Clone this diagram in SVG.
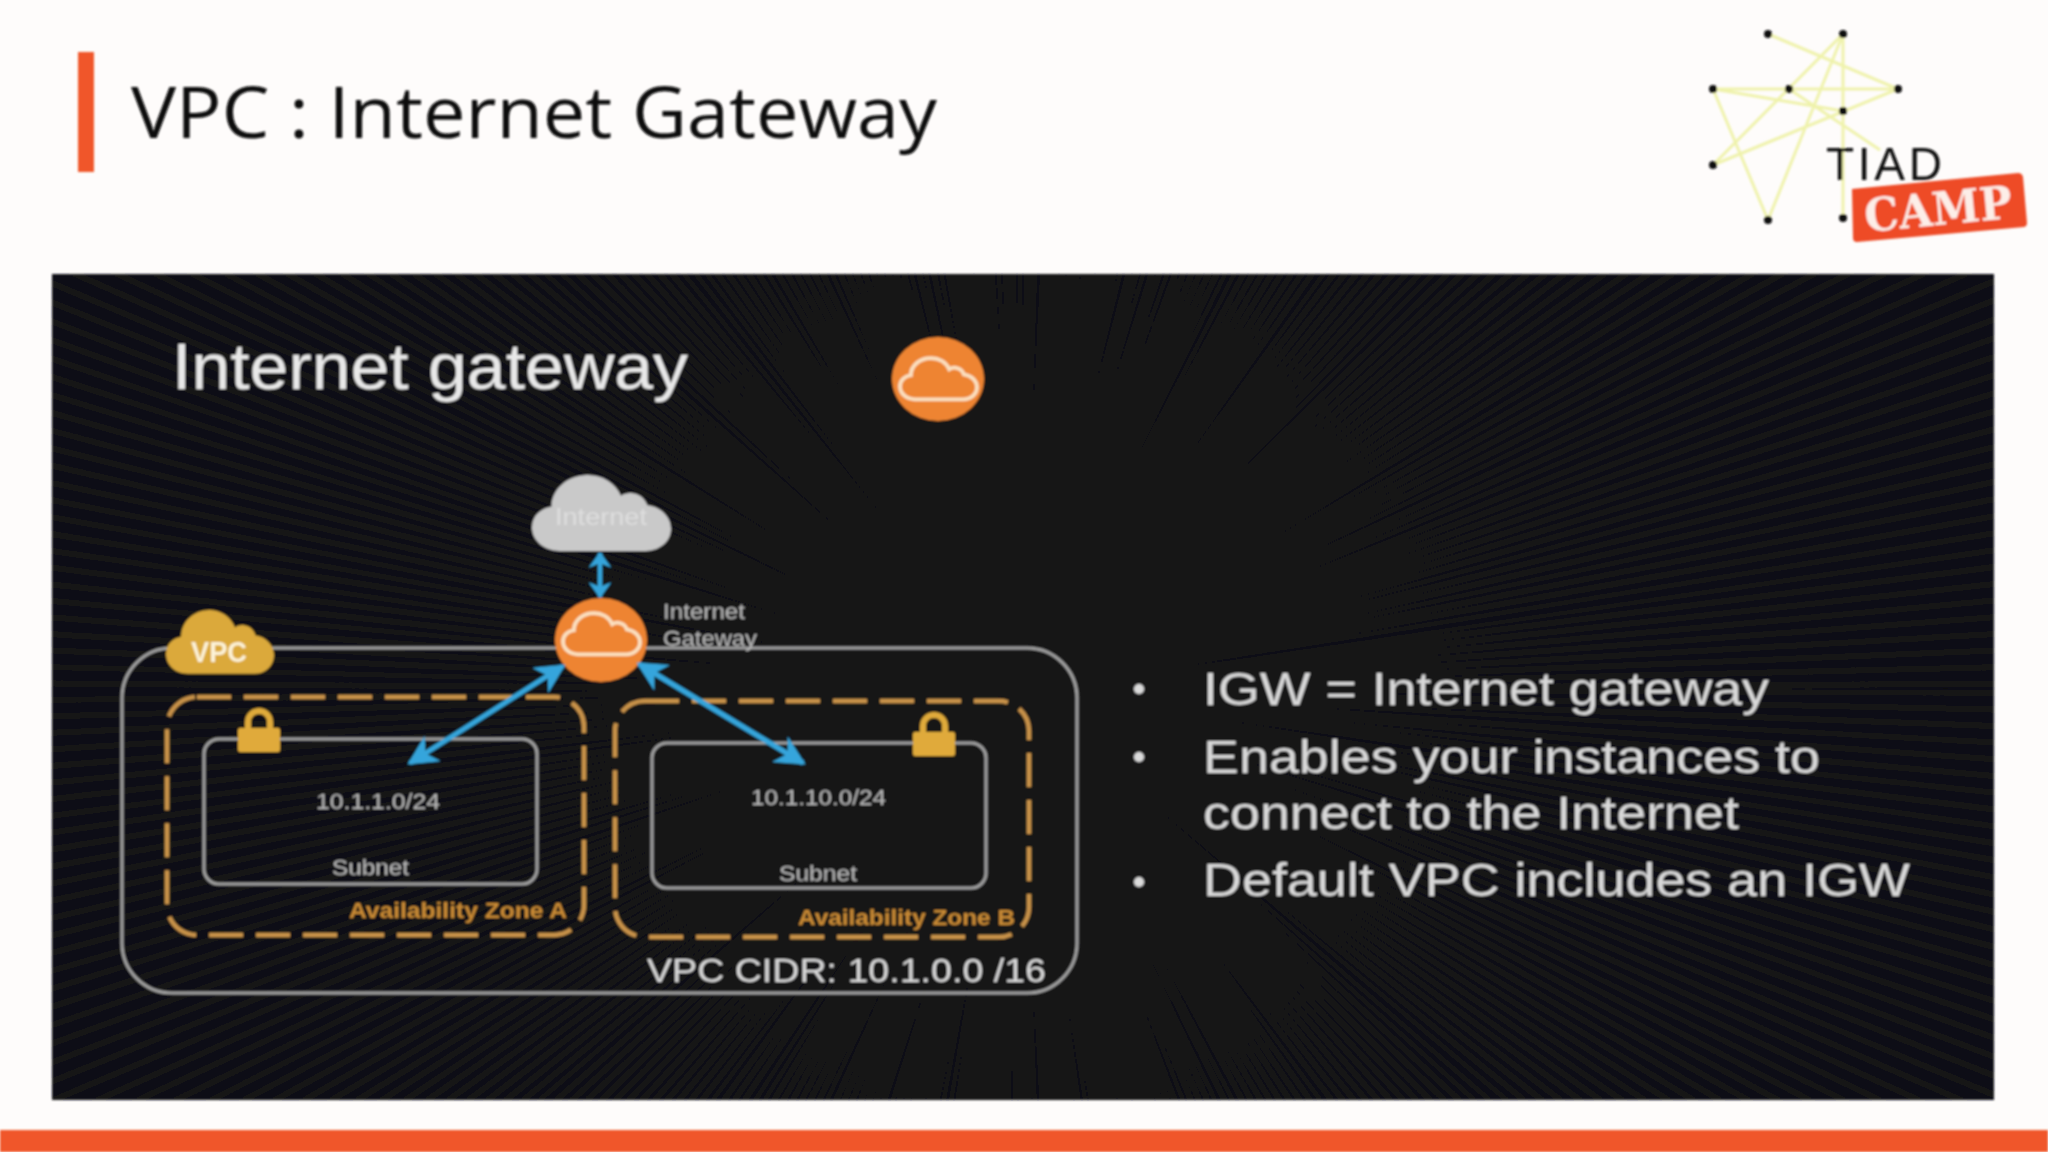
<svg xmlns="http://www.w3.org/2000/svg" xmlns:xlink="http://www.w3.org/1999/xlink" width="2048" height="1152" viewBox="0 0 2048 1152">
<style>
.sans{font-family:"Liberation Sans",Arial,sans-serif}
.box{fill:none;stroke:#a0a0a0;stroke-width:3}
.az{fill:none;stroke:#c8924a;stroke-width:4.5;stroke-dasharray:34 13}
.lbl{fill:#b8b8b8;font-size:22px}
.azt{fill:#c98a35;font-size:22px;font-weight:bold}
.bul{fill:#d8d8d8;font-size:47px}
.dot{fill:#dcdcdc}
.arr{stroke:#36a5dc;stroke-width:5;fill:none;marker-start:url(#ah);marker-end:url(#ah)}
.arrs{stroke:#36a5dc;stroke-width:4.5;fill:none;marker-start:url(#ahs);marker-end:url(#ahs)}
.ln{stroke:#eff2ac;stroke-width:3;fill:none}
.nd{fill:#111}
.lockb{fill:#e0aa3a}
.ray{fill:none;stroke:#151517}
</style>
<defs>
<filter id="soft" x="0" y="0" width="100%" height="100%"><feGaussianBlur stdDeviation="1"/></filter>
<marker id="ah" viewBox="0 0 10 10" refX="9" refY="5" markerWidth="6" markerHeight="6" orient="auto-start-reverse"><path d="M0 0 L10 5 L0 10 L3 5 Z" fill="#36a5dc"/></marker>
<marker id="ahs" viewBox="0 0 7 10" refX="6.5" refY="5" markerUnits="userSpaceOnUse" markerWidth="16" markerHeight="24" orient="auto-start-reverse"><path d="M0 0 L7 5 L0 10 L2 5 Z" fill="#36a5dc"/></marker>
<path id="cloud" d="M20 55 C8 55 0 47 0 38 C0 29 7 24 14 23 C14 10 26 0 40 0 C51 0 60 6 64 15 C70 11 80 13 83 22 C92 23 100 30 100 39 C100 48 92 55 82 55 Z"/>
<g id="lock"><path d="M-11 0 V-8 A11 11 0 0 1 11 -8 V0" fill="none" stroke="#e0aa3a" stroke-width="6"/><rect class="lockb" x="-21" y="-2" width="42" height="24" rx="2"/></g>
<clipPath id="pclip"><rect x="52" y="274" width="1942" height="826"/></clipPath>
</defs>
<rect width="2048" height="1152" fill="#fefcfb"/>
<g filter="url(#soft)">
<g id="header">
<rect x="78" y="52" width="16" height="120" fill="#f0562a"/>
<text x="131" y="138" font-family="'Open Sans','Noto Sans',sans-serif" font-size="72" fill="#0c0c0c" textLength="806" lengthAdjust="spacingAndGlyphs">VPC : Internet Gateway</text>
</g>
<g id="logo">
<path class="ln" d="M1768 34 L1898 89 L1713 165 L1843 34 L1843 218 M1713 89 H1898 M1713 89 L1768 220 L1843 34 M1713 89 L1843 111 M1789 89 L1880 150"/>
<circle class="nd" cx="1768" cy="34" r="4"/><circle class="nd" cx="1843" cy="34" r="4"/><circle class="nd" cx="1713" cy="89" r="4"/><circle class="nd" cx="1789" cy="89" r="4"/><circle class="nd" cx="1898" cy="89" r="4"/><circle class="nd" cx="1843" cy="111" r="4"/><circle class="nd" cx="1713" cy="165" r="4"/><circle class="nd" cx="1768" cy="220" r="4"/><circle class="nd" cx="1843" cy="218" r="4"/>
<text x="1826" y="180" class="sans" font-size="46" fill="#111" textLength="116">TIAD</text>
<path d="M1852 189 L2018 173 Q2022 173 2023 177 L2027 223 Q2027 226 2024 227 L1857 242 Q1853 242 1853 238 Z" fill="#ee4b28"/>
<text x="1938" y="225" text-anchor="middle" transform="rotate(-5.5 1938 207)" font-family="'DejaVu Serif',serif" font-weight="bold" font-size="46" fill="#fdeee8" textLength="148" lengthAdjust="spacingAndGlyphs">CAMP</text>
</g>
<rect id="footer" x="0" y="1130" width="2048" height="22" fill="#f0562a"/>
<g id="panel">
<rect x="52" y="274" width="1942" height="826" fill="#101012"/>
<g clip-path="url(#pclip)">
<circle class="ray" cx="1020" cy="690" r="1000" stroke-width="2000" stroke-dasharray="6 11"/>
</g>
<text x="172" y="389" class="sans" font-size="64" fill="#e8e8e8" textLength="516" lengthAdjust="spacingAndGlyphs">Internet gateway</text>
</g>
<g id="legend-igw">
<ellipse cx="938" cy="379" rx="46" ry="42" fill="#ee8430"/>
<use xlink:href="#cloud" href="#cloud" transform="translate(900 358) scale(.77 .75)" fill="none" stroke="#fbe0c0" stroke-width="5"/>
</g>
<g id="vpc">
<rect class="box" x="122" y="648" width="955" height="345" rx="50"/>
<use xlink:href="#cloud" href="#cloud" transform="translate(166 610) scale(1.08 1.16)" fill="#dba93a"/>
<text x="219" y="662" text-anchor="middle" class="sans" font-size="29" font-weight="bold" fill="#fdf3d8" textLength="56" lengthAdjust="spacingAndGlyphs">VPC</text>
<text x="647" y="982" class="sans" font-size="34" fill="#d8d8d8" textLength="399" lengthAdjust="spacingAndGlyphs">VPC CIDR: 10.1.0.0 /16</text>
</g>
<g id="az-a">
<rect class="az" x="167" y="697" width="417" height="238" rx="30"/>
<text x="349" y="918" class="sans azt" textLength="218" lengthAdjust="spacingAndGlyphs">Availability Zone A</text>
</g>
<g id="az-b">
<rect class="az" x="615" y="701" width="414" height="236" rx="30"/>
<text x="798" y="925" class="sans azt" textLength="217" lengthAdjust="spacingAndGlyphs">Availability Zone B</text>
</g>
<g id="subnet-a">
<rect class="box" x="204" y="739" width="333" height="145" rx="15"/>
<use xlink:href="#lock" href="#lock" x="259" y="730"/>
<text x="316" y="809" class="sans lbl" textLength="124" lengthAdjust="spacingAndGlyphs">10.1.1.0/24</text>
<text x="332" y="875" class="sans lbl" textLength="77" lengthAdjust="spacingAndGlyphs">Subnet</text>
</g>
<g id="subnet-b">
<rect class="box" x="652" y="743" width="334" height="145" rx="15"/>
<use xlink:href="#lock" href="#lock" x="934" y="734"/>
<text x="751" y="805" class="sans lbl" textLength="135" lengthAdjust="spacingAndGlyphs">10.1.10.0/24</text>
<text x="779" y="881" class="sans lbl" textLength="78" lengthAdjust="spacingAndGlyphs">Subnet</text>
</g>
<g id="internet">
<use xlink:href="#cloud" href="#cloud" transform="translate(532 475) scale(1.39 1.38)" fill="#c9c9c9"/>
<text x="555" y="525" class="sans" font-size="24" fill="#dedede" textLength="92" lengthAdjust="spacingAndGlyphs">Internet</text>
</g>
<g id="igw">
<ellipse cx="601" cy="640" rx="46" ry="42" fill="#ee8430"/>
<use xlink:href="#cloud" href="#cloud" transform="translate(563 613) scale(.77 .75)" fill="none" stroke="#fbe0c0" stroke-width="5"/>
<text x="663" y="619" class="sans lbl" textLength="82" lengthAdjust="spacingAndGlyphs">Internet</text>
<text x="663" y="646" class="sans lbl" textLength="94" lengthAdjust="spacingAndGlyphs">Gateway</text>
</g>
<g id="connectors">
<line class="arrs" x1="600" y1="553" x2="600" y2="597"/>
<line class="arr" x1="563" y1="666" x2="410" y2="763"/>
<line class="arr" x1="639" y1="664" x2="803" y2="763"/>
</g>
<g id="bullets">
<circle class="dot" cx="1139" cy="689" r="5"/><circle class="dot" cx="1139" cy="757" r="5"/><circle class="dot" cx="1139" cy="882" r="5"/>
<text x="1203" y="705" class="sans bul" textLength="566" lengthAdjust="spacingAndGlyphs">IGW = Internet gateway</text>
<text x="1203" y="773" class="sans bul" textLength="617" lengthAdjust="spacingAndGlyphs">Enables your instances to</text>
<text x="1203" y="829" class="sans bul" textLength="536" lengthAdjust="spacingAndGlyphs">connect to the Internet</text>
<text x="1203" y="896" class="sans bul" textLength="707" lengthAdjust="spacingAndGlyphs">Default VPC includes an IGW</text>
</g>
</g>
</svg>
